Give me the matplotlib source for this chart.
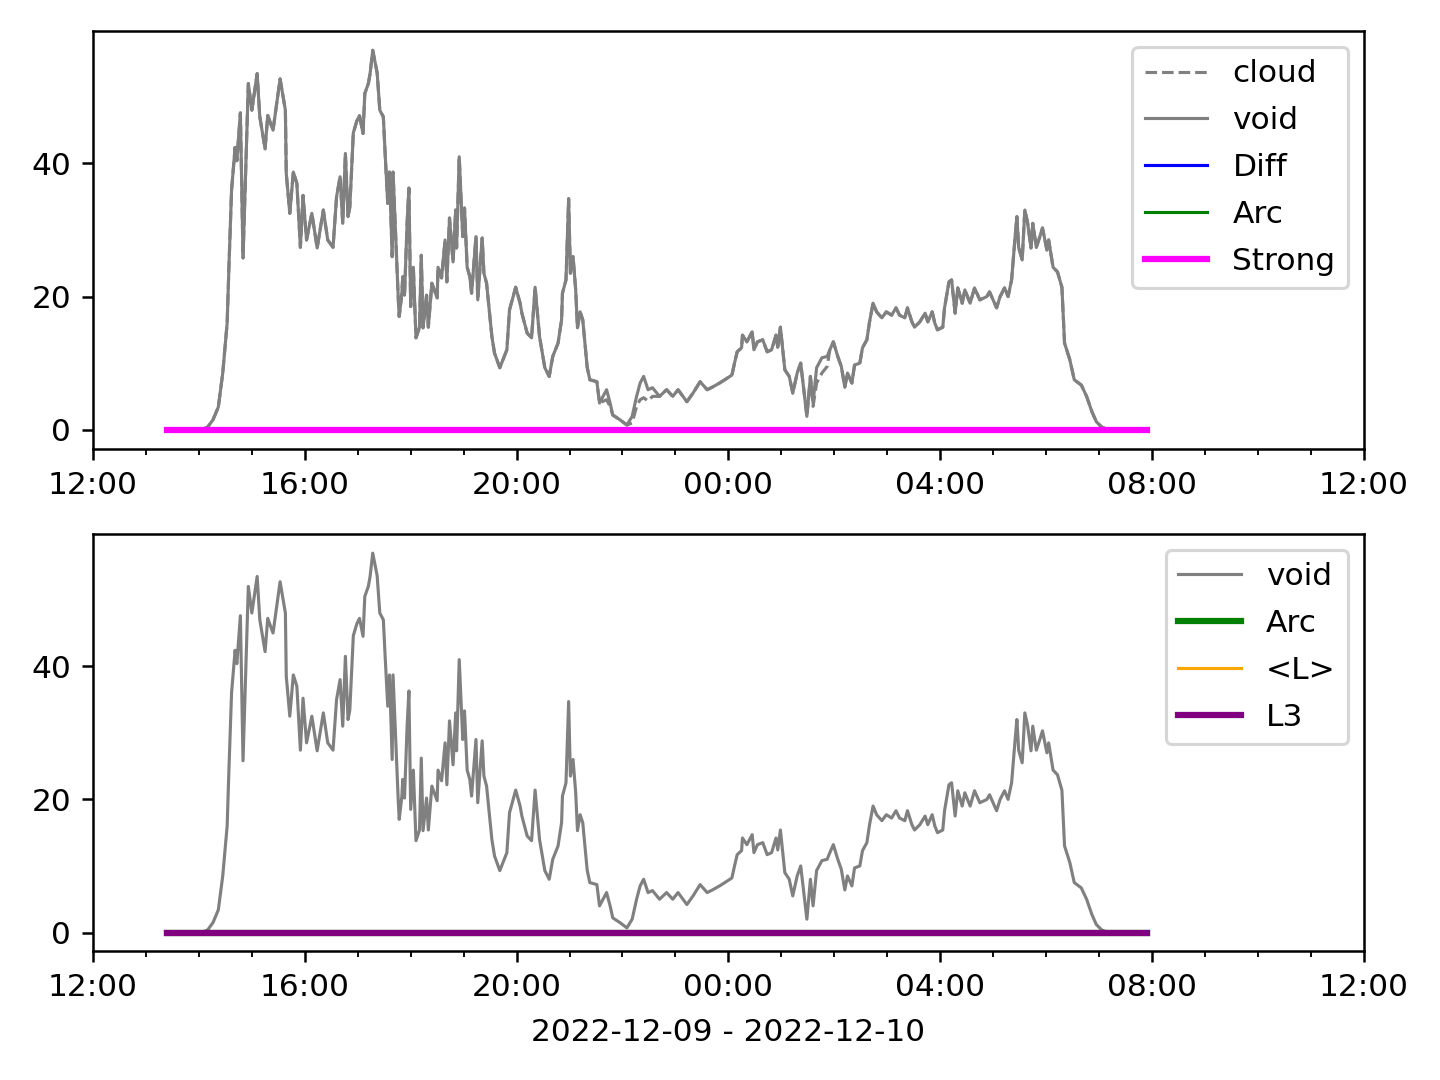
import matplotlib
matplotlib.use("Agg")
import matplotlib.pyplot as plt
import matplotlib.dates as mdates
import pandas as pd
import numpy as np

# ---- data ----
void_times = [
    "13:24", "13:40", "14:00", "14:05", "14:10", "14:16", "14:22", "14:27", "14:32", "14:34",
    "14:37", "14:41", "14:43", "14:47", "14:50", "14:56", "15:00", "15:06", "15:09", "15:15",
    "15:18", "15:24", "15:32", "15:38", "15:39", "15:43", "15:47", "15:51", "15:55", "15:58",
    "16:02", "16:08", "16:14", "16:21", "16:26", "16:32", "16:36", "16:40", "16:43", "16:46",
    "16:49", "16:51", "16:55", "16:59", "17:02", "17:06", "17:08", "17:12", "17:14", "17:17",
    "17:22", "17:25", "17:29", "17:31", "17:34", "17:36", "17:39", "17:40", "17:46", "17:47",
    "17:50", "17:51", "17:53", "17:56", "17:58", "18:00", "18:03", "18:06", "18:10", "18:12",
    "18:14", "18:18", "18:20", "18:24", "18:30", "18:31", "18:35", "18:39", "18:41", "18:44",
    "18:48", "18:51", "18:52", "18:55", "18:59", "19:01", "19:04", "19:07", "19:09", "19:14",
    "19:16", "19:21", "19:23", "19:26", "19:32", "19:35", "19:41", "19:49", "19:52", "19:59",
    "20:04", "20:06", "20:12", "20:17", "20:21", "20:26", "20:32", "20:37", "20:41", "20:47",
    "20:51", "20:52", "20:56", "20:59", "21:01", "21:04", "21:07", "21:09", "21:12", "21:15",
    "21:20", "21:23", "21:31", "21:34", "21:42", "21:46", "21:49", "21:57", "22:05", "22:11",
    "22:16", "22:20", "22:24", "22:29", "22:34", "22:42", "22:50", "22:57", "23:03", "23:13",
    "23:20", "23:28", "23:36", "23:42", "23:50", "23:56", "00:04", "00:07", "00:10", "00:15",
    "00:16", "00:21", "00:27", "00:29", "00:33", "00:39", "00:44", "00:49", "00:54", "00:56",
    "00:59", "01:04", "01:09", "01:13", "01:18", "01:22", "01:26", "01:29", "01:33", "01:36",
    "01:40", "01:46", "01:52", "01:55", "01:59", "02:04", "02:08", "02:12", "02:15", "02:20",
    "02:23", "02:29", "02:32", "02:37", "02:40", "02:44", "02:48", "02:54", "02:59", "03:05",
    "03:10", "03:14", "03:20", "03:23", "03:28", "03:31", "03:37", "03:43", "03:46", "03:51",
    "03:54", "03:57", "04:03", "04:05", "04:10", "04:13", "04:17", "04:20", "04:25", "04:28",
    "04:34", "04:39", "04:45", "04:53", "04:56", "05:00", "05:04", "05:08", "05:13", "05:17",
    "05:21", "05:25", "05:27", "05:29", "05:33", "05:36", "05:39", "05:43", "05:45", "05:49",
    "05:53", "05:56", "06:01", "06:03", "06:08", "06:13", "06:18", "06:21", "06:27", "06:32",
    "06:40", "06:46", "06:52", "06:57", "07:03", "07:10", "07:30", "07:54",
]
void_values = [
    0.0, 0.0, 0.0, 0.1, 0.4, 1.5, 3.4, 8.5, 16.0, 24.4,
    36.0, 42.4, 40.4, 47.6, 25.8, 52.0, 48.0, 53.5, 47.0, 42.2,
    47.2, 45.0, 52.7, 48.0, 38.5, 32.5, 38.7, 37.0, 27.4, 35.2,
    28.5, 32.5, 27.3, 33.0, 28.5, 27.4, 35.0, 38.0, 31.0, 41.5,
    32.0, 33.4, 44.6, 46.4, 47.2, 44.5, 50.5, 52.0, 53.5, 57.0,
    53.6, 48.0, 47.0, 41.6, 34.0, 38.7, 26.0, 38.7, 19.5, 17.0,
    20.5, 23.0, 20.2, 31.2, 36.3, 18.5, 24.4, 13.8, 15.4, 26.2,
    15.3, 20.2, 15.4, 22.0, 19.8, 24.4, 22.8, 28.5, 22.2, 31.8,
    25.2, 33.0, 27.3, 41.0, 29.0, 33.3, 24.4, 23.0, 20.5, 29.0,
    19.5, 28.8, 23.5, 22.0, 14.0, 11.5, 9.3, 12.0, 18.0, 21.4,
    19.0, 17.5, 14.5, 13.8, 21.4, 14.0, 9.3, 8.0, 11.0, 13.0,
    16.5, 20.5, 22.5, 34.7, 23.5, 26.0, 21.0, 15.3, 17.7, 16.5,
    9.4, 7.5, 7.2, 4.0, 6.0, 4.0, 2.2, 1.5, 0.7, 2.0,
    5.0, 7.0, 8.0, 6.0, 6.3, 5.0, 6.0, 5.0, 6.0, 4.2,
    5.5, 7.2, 6.0, 6.4, 7.0, 7.5, 8.2, 10.0, 11.7, 12.3,
    14.2, 13.2, 14.7, 12.0, 13.2, 13.5, 11.7, 12.0, 14.2, 12.4,
    15.4, 9.0, 8.0, 5.5, 8.5, 10.0, 5.5, 2.0, 8.0, 4.0,
    9.3, 10.8, 11.0, 12.0, 13.2, 11.0, 9.5, 6.4, 8.5, 7.0,
    9.7, 10.0, 12.3, 13.5, 16.2, 19.0, 17.7, 16.8, 17.7, 17.2,
    18.3, 17.2, 16.8, 18.3, 16.2, 15.4, 16.2, 17.5, 16.2, 17.7,
    16.0, 15.0, 15.4, 18.3, 22.2, 22.5, 17.5, 21.3, 19.0, 21.0,
    19.0, 21.3, 19.5, 20.0, 20.7, 19.5, 18.3, 20.0, 21.3, 20.0,
    22.5, 29.0, 32.0, 27.4, 25.5, 33.0, 31.2, 27.3, 31.0, 27.4,
    29.0, 30.3, 27.0, 28.5, 24.4, 23.7, 21.4, 13.0, 10.5, 7.5,
    6.7, 5.0, 2.7, 1.2, 0.4, 0.0, 0.0, 0.0,
]

# cloud follows void except in these windows
cloud_override_times = ["21:42", "21:46", "22:11", "22:16", "22:20", "22:24", "22:29", "22:34",
                        "01:36", "01:40", "01:46", "01:52"]
cloud_override_values = [4.5, 3.5, 1.0, 3.5, 4.5, 4.8, 4.3, 5.0,
                         3.5, 7.0, 8.5, 9.5]

zero_times = ["13:24", "07:54"]
diff_values = [0.0, 0.0]
arc_values = [0.0, 0.0]
strong_values = [0.0, 0.0]
meanL_values = [0.0, 0.0]
L3_values = [0.0, 0.0]

x_label = "2022-12-09 - 2022-12-10"


def to_dt(hhmm):
    h = int(hhmm.split(":")[0])
    day = "2022-12-09" if h >= 12 else "2022-12-10"
    return pd.Timestamp(f"{day} {hhmm}")


t_void = [to_dt(s) for s in void_times]
void = pd.Series(void_values, index=t_void)
cloud = void.copy()
for s, v in zip(cloud_override_times, cloud_override_values):
    cloud[to_dt(s)] = v
t_zero = [to_dt(s) for s in zero_times]

fig, (ax1, ax2) = plt.subplots(2, 1, figsize=(6.4, 4.8), dpi=225)
fig.subplots_adjust(left=0.0646, right=0.947, top=0.971, bottom=0.119, hspace=0.205)

ax1.plot(cloud.index, cloud.values, color="gray", lw=1, ls="--", label="cloud")
ax1.plot(void.index, void.values, color="gray", lw=1, label="void")
ax1.plot(t_zero, diff_values, color="blue", lw=1, label="Diff")
ax1.plot(t_zero, arc_values, color="green", lw=1, label="Arc")
ax1.plot(t_zero, strong_values, color="magenta", lw=2, label="Strong")
ax1.legend(loc="upper right", labelspacing=0.57)

ax2.plot(void.index, void.values, color="gray", lw=1, label="void")
ax2.plot(t_zero, arc_values, color="green", lw=2, label="Arc")
ax2.plot(t_zero, meanL_values, color="orange", lw=1, label="<L>")
ax2.plot(t_zero, L3_values, color="purple", lw=2, label="L3")
ax2.legend(loc="upper right", labelspacing=0.57)
ax2.set_xlabel(x_label, labelpad=5)

for ax in (ax1, ax2):
    ax.set_xlim(pd.Timestamp("2022-12-09 12:00"), pd.Timestamp("2022-12-10 12:00"))
    ax.xaxis.set_major_locator(mdates.HourLocator(byhour=[0, 4, 8, 12, 16, 20]))
    ax.xaxis.set_minor_locator(mdates.HourLocator(interval=1))
    ax.xaxis.set_major_formatter(mdates.DateFormatter("%H:%M"))
    ax.set_yticks([0, 20, 40])

fig.savefig("out.png", dpi=225)
